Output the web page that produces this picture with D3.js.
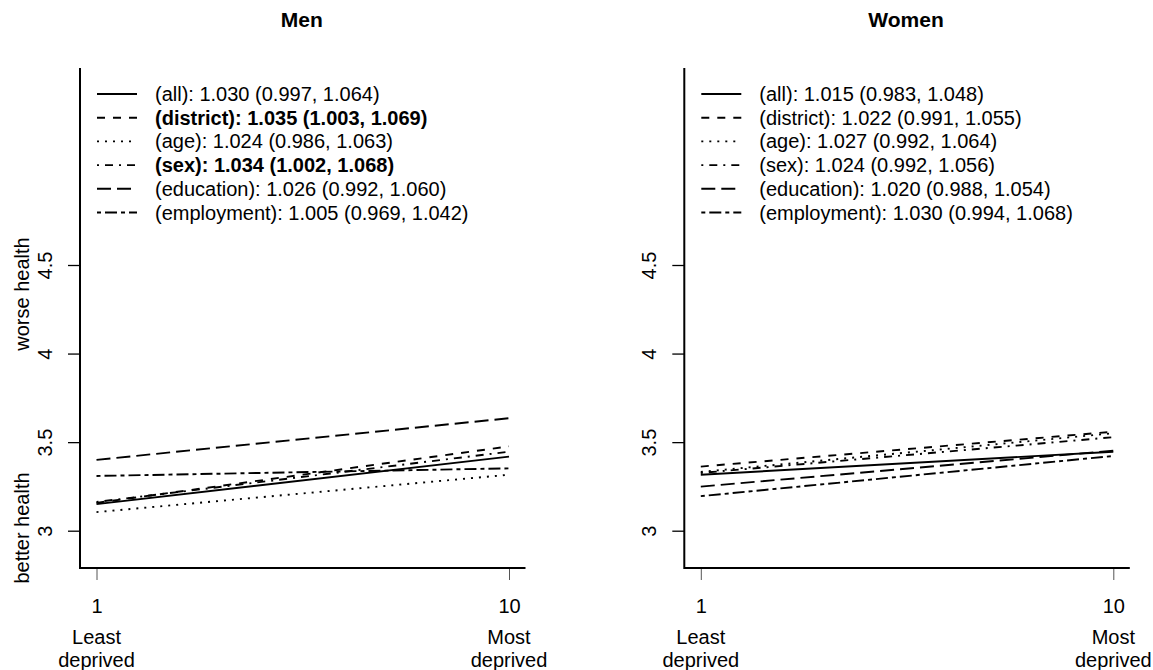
<!DOCTYPE html>
<head>
    <title>Health by deprivation decile</title>
    <meta charset="utf-8">
    <style>
        body { margin: 0; background: #fff; }
        svg { display: block; font-family: "Liberation Sans", Arial, sans-serif; }
        .frame { stroke: #000; stroke-width: 2; fill: none; }
        .tick line { stroke: #000; stroke-width: 1.3; }
        .tick text { font-size: 20px; fill: #000; }
        .series { fill: none; stroke: #000; stroke-width: 1.9; }
        .legend text { font-size: 20px; }
    </style>
    <script src="https://cdn.jsdelivr.net/npm/d3@7/dist/d3.min.js"></script>
</head>
<body>
<svg width="1153" height="670"></svg>
<script>

// deciles at the two ends of each fitted line
var deciles = [1, 10];
var yTicks = [3, 3.5, 4, 4.5];
var models = ["all", "district", "age", "sex", "education", "employment"];

// fitted mean score at decile 1 and decile 10
var menStart = [3.150, 3.157, 3.105, 3.162, 3.400, 3.309];
var menEnd   = [3.418, 3.476, 3.316, 3.446, 3.635, 3.352];
var womenStart = [3.316, 3.362, 3.332, 3.326, 3.249, 3.195];
var womenEnd   = [3.446, 3.559, 3.550, 3.528, 3.452, 3.422];

var menLegend = [
  "(all): 1.030 (0.997, 1.064)",
  "(district): 1.035 (1.003, 1.069)",
  "(age): 1.024 (0.986, 1.063)",
  "(sex): 1.034 (1.002, 1.068)",
  "(education): 1.026 (0.992, 1.060)",
  "(employment): 1.005 (0.969, 1.042)"
];
var menBold = [false, true, false, true, false, false];
var womenLegend = [
  "(all): 1.015 (0.983, 1.048)",
  "(district): 1.022 (0.991, 1.055)",
  "(age): 1.027 (0.992, 1.064)",
  "(sex): 1.024 (0.992, 1.056)",
  "(education): 1.020 (0.988, 1.054)",
  "(employment): 1.030 (0.994, 1.068)"
];
var womenBold = [false, false, false, false, false, false];

// R line types: solid, dashed, dotted, dotdash, longdash, twodash
var dashes = ["none", "8,8", "2,6", "2,6,8,6", "14,6", "4,4,12,4"];

var svg = d3.select("svg");

var y = d3.scaleLinear().domain([3, 4.5]).range([530.7, 265]);
var boxTop = 68, boxBottom = 568;

function panel(off, title, starts, ends, labels, bold, yTitles) {
  var x = d3.scaleLinear().domain([1, 10]).range([96.5 + off, 509 + off]);
  var left = 80 + off, right = 525.5 + off;
  var g = svg.append("g");

  g.append("text")
      .attr("x", (left + right) / 2 - 1)
      .attr("y", 27)
      .attr("text-anchor", "middle")
      .style("font-size", "21px")
      .style("font-weight", "bold")
      .text(title);

  // y axis
  var ya = g.append("g")
      .attr("transform", "translate(" + left + ",0)")
      .call(d3.axisLeft(y).tickValues(yTicks).tickSize(12).tickFormat(d3.format("")));
  ya.select(".domain").remove();
  ya.selectAll(".tick text")
      .attr("transform", "rotate(-90)")
      .attr("x", 0)
      .attr("y", -35)
      .attr("dy", "0.35em")
      .attr("text-anchor", "middle");

  // x axis
  var xa = g.append("g")
      .attr("transform", "translate(0," + boxBottom + ")")
      .call(d3.axisBottom(x).tickValues(deciles).tickSize(12).tickFormat(d3.format("d")));
  xa.select(".domain").remove();
  xa.selectAll(".tick line").style("stroke-width", 1).style("stroke", "#555");
  xa.selectAll(".tick text").attr("y", 38).attr("dy", "0.35em");

  var xLab = [["Least", "deprived"], ["Most", "deprived"]];
  deciles.forEach(function(d, i) {
    xLab[i].forEach(function(s, j) {
      g.append("text")
          .attr("x", x(d))
          .attr("y", 637 + j * 23)
          .attr("dy", "0.35em")
          .attr("text-anchor", "middle")
          .style("font-size", "20px")
          .text(s);
    });
  });

  // L-shaped box
  g.append("path")
      .attr("class", "frame")
      .attr("d", "M" + left + "," + boxTop + "V" + boxBottom + "H" + right);

  if (yTitles) {
    g.append("text")
        .attr("transform", "translate(22,294) rotate(-90)")
        .attr("dy", "0.35em")
        .attr("text-anchor", "middle")
        .style("font-size", "20px")
        .text("worse health");
    g.append("text")
        .attr("transform", "translate(22,528) rotate(-90)")
        .attr("dy", "0.35em")
        .attr("text-anchor", "middle")
        .style("font-size", "20px")
        .text("better health");
  }

  var line = d3.line().x(function(d) { return x(d[0]); }).y(function(d) { return y(d[1]); });

  models.forEach(function(m, i) {
    g.append("path")
        .attr("class", "series")
        .attr("d", line([[deciles[0], starts[i]], [deciles[1], ends[i]]]))
        .style("stroke-dasharray", dashes[i]);
  });

  // legend
  var lg = g.append("g").attr("class", "legend");
  labels.forEach(function(s, i) {
    var ly = 94 + i * 23.7;
    lg.append("line")
        .attr("class", "series")
        .attr("x1", 97 + off).attr("x2", 137 + off)
        .attr("y1", ly).attr("y2", ly)
        .style("stroke-dasharray", dashes[i]);
    lg.append("text")
        .attr("x", 155 + off)
        .attr("y", ly)
        .attr("dy", "0.35em")
        .style("font-weight", bold[i] ? "bold" : "normal")
        .text(s);
  });
}

panel(0, "Men", menStart, menEnd, menLegend, menBold, true);
panel(604.3, "Women", womenStart, womenEnd, womenLegend, womenBold, false);

</script>
</body>
